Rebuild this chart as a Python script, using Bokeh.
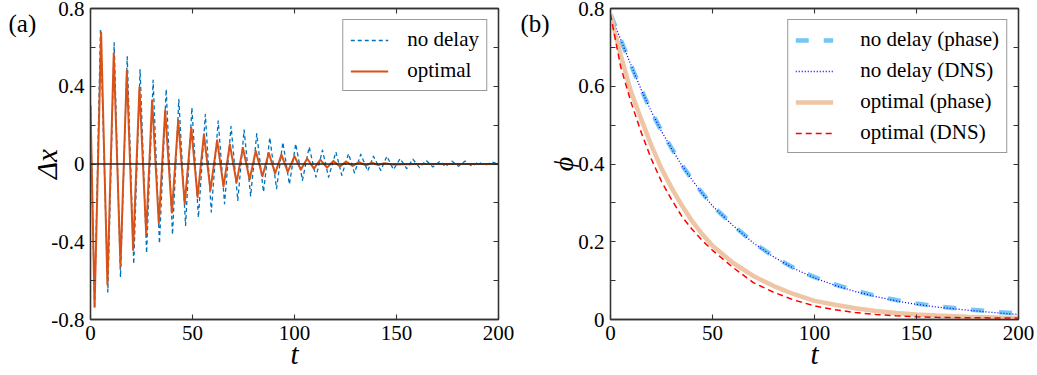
from bokeh.plotting import figure
from bokeh.models import Range1d, FixedTicker, LinearAxis, Span, Label
from bokeh.layouts import row
from bokeh.embed import file_html
from bokeh.resources import INLINE

# ---------------- data: panel (a) ----------------
t_nodelay = [0, 2.0, 4.9, 8.5, 11.6, 14.7, 18.0, 21.2, 24.3, 27.5,
             30.7, 33.8, 37.1, 40.2, 43.3, 46.6, 49.7, 52.9, 56.3, 59.2,
             62.6, 65.7, 68.9, 72.2, 75.3, 78.5, 81.5, 84.8, 87.9, 91.2,
             94.3, 97.5, 100.6, 103.9, 107.2, 110.5, 113.7, 116.7, 120.3, 123.2,
             126.5, 129.4, 132.5, 135.9, 138.7, 142.3, 145.3, 148.5, 151.8, 155.0,
             158.0, 161.3, 164.5, 167.8, 171.4, 173.9, 177.1, 180.4, 183.6, 187.0,
             190.1, 193.5, 196.7, 200]
dx_nodelay = [0.30, -0.74, 0.697, -0.659, 0.624, -0.582, 0.552, -0.515, 0.485, -0.458,
              0.431, -0.410, 0.385, -0.364, 0.332, -0.316, 0.290, -0.275, 0.255, -0.247,
              0.222, -0.204, 0.194, -0.187, 0.175, -0.164, 0.156, -0.144, 0.136, -0.127,
              0.112, -0.105, 0.104, -0.084, 0.088, -0.067, 0.071, -0.068, 0.062, -0.058,
              0.053, -0.046, 0.050, -0.036, 0.040, -0.033, 0.040, -0.029, 0.028, -0.024,
              0.025, -0.019, 0.019, -0.015, 0.015, -0.015, 0.015, -0.012, 0.015, -0.012,
              0.010, -0.007, 0.010, 0.0]

t_optimal = [0, 2.0, 5.2, 8.3, 11.4, 14.7, 17.8, 20.9, 24.0, 27.3,
             30.2, 33.5, 36.6, 39.9, 43.0, 46.2, 49.4, 52.5, 55.6, 58.8,
             62.1, 65.2, 68.3, 71.6, 74.7, 78.0, 81.0, 84.3, 87.4, 90.5,
             93.6, 96.7, 100.0, 103.1, 106.2, 109.5, 112.6, 115.9, 119.1, 122.3,
             125.3, 128.5, 131.7, 135.0, 138.0, 141.0, 144.0, 148.0, 160.0, 200.0]
dx_optimal = [0.302, -0.735, 0.676, -0.62, 0.570, -0.525, 0.478, -0.442, 0.394, -0.36,
              0.328, -0.305, 0.276, -0.25, 0.225, -0.205, 0.186, -0.170, 0.153, -0.135,
              0.122, -0.115, 0.101, -0.096, 0.084, -0.080, 0.067, -0.063, 0.057, -0.049,
              0.048, -0.041, 0.040, -0.029, 0.028, -0.024, 0.022, -0.019, 0.016, -0.013,
              0.013, -0.010, 0.010, -0.007, 0.007, -0.005, 0.004, -0.003, 0.0, 0.0]

# ---------------- data: panel (b) ----------------
t_phi = [0, 5, 10, 15, 20, 25, 30, 35, 40, 45, 50, 60, 70, 80, 90, 100,
         110, 120, 130, 140, 150, 160, 175, 190, 200]
phi_nodelay_phase = [0.785, 0.72, 0.655, 0.592, 0.535, 0.485, 0.44, 0.397, 0.36, 0.325,
                     0.293, 0.243, 0.198, 0.162, 0.132, 0.109, 0.09, 0.074, 0.061, 0.05,
                     0.041, 0.034, 0.026, 0.019, 0.016]
phi_nodelay_dns = [0.785, 0.72, 0.655, 0.592, 0.535, 0.484, 0.439, 0.396, 0.359, 0.324,
                   0.292, 0.242, 0.197, 0.161, 0.131, 0.107, 0.088, 0.072, 0.059, 0.048,
                   0.039, 0.032, 0.024, 0.017, 0.013]
phi_optimal_phase = [0.785, 0.68, 0.587, 0.516, 0.448, 0.388, 0.338, 0.293, 0.253, 0.219,
                     0.19, 0.146, 0.112, 0.086, 0.065, 0.048, 0.038, 0.029, 0.022, 0.017,
                     0.013, 0.010, 0.007, 0.005, 0.004]
phi_optimal_dns = [0.785, 0.65, 0.56, 0.482, 0.413, 0.355, 0.308, 0.265, 0.232, 0.203,
                   0.178, 0.134, 0.095, 0.07, 0.05, 0.035, 0.025, 0.018, 0.013, 0.0095,
                   0.007, 0.0055, 0.0045, 0.004, 0.0035]

# ---------------- ticks ----------------
x_ticks = [0, 50, 100, 150, 200]
x_tick_labels = ["0", "50", "100", "150", "200"]
a_y_ticks = [-0.8, -0.4, 0, 0.4, 0.8]
a_y_tick_labels = ["-0.8", "-0.4", "0", "0.4", "0.8"]
a_y_minor = [-0.6, -0.2, 0.2, 0.6]
b_y_ticks = [0, 0.2, 0.4, 0.6, 0.8]
b_y_tick_labels = ["0", "0.2", "0.4", "0.6", "0.8"]
b_y_minor = [0.1, 0.3, 0.5, 0.7]

SERIF = "Liberation Serif"
FRAME = "#333333"


def style_axis(ax, ticks, minor, labels=None, label_size="29px"):
    ax.ticker = FixedTicker(ticks=ticks, minor_ticks=minor)
    ax.major_tick_in = 5
    ax.major_tick_out = 0
    ax.minor_tick_in = 5
    ax.minor_tick_out = 0
    ax.axis_line_color = FRAME
    ax.axis_line_width = 1.3
    ax.major_tick_line_color = FRAME
    ax.minor_tick_line_color = FRAME
    ax.major_tick_line_width = 1.1
    ax.minor_tick_line_width = 1.1
    if labels is not None:
        ax.major_label_overrides = dict(zip(ticks, labels))
        ax.major_label_text_font = SERIF
        ax.major_label_text_font_size = "21px"
        ax.major_label_text_color = "black"
        ax.major_label_standoff = 6
        ax.axis_label_text_font = SERIF
        ax.axis_label_text_font_style = "italic"
        ax.axis_label_text_font_size = label_size
        ax.axis_label_text_color = "black"
    else:
        ax.major_label_overrides = {tk: "" for tk in ticks}
        ax.major_label_text_font_size = "0px"
        ax.major_label_standoff = 0


def make_fig(width, left, right, y0, y1, yt, ytl, ym, ylabel, ylabel_standoff, ylabel_size):
    p = figure(width=width, height=375, output_backend="svg", toolbar_location=None,
               x_range=Range1d(0, 200), y_range=Range1d(y0, y1),
               min_border_left=left, min_border_right=right,
               min_border_top=8, min_border_bottom=56,
               x_axis_label="t", y_axis_label=ylabel)
    p.grid.visible = False
    p.outline_line_color = FRAME
    p.outline_line_width = 1.3
    p.background_fill_color = "white"
    p.border_fill_color = "white"
    style_axis(p.xaxis[0], x_ticks, [], x_tick_labels)
    p.xaxis[0].axis_label_standoff = -5
    style_axis(p.yaxis[0], yt, ym, ytl, ylabel_size)
    p.yaxis[0].axis_label_standoff = ylabel_standoff
    top = LinearAxis()
    style_axis(top, x_ticks, [])
    p.add_layout(top, "above")
    rt = LinearAxis()
    style_axis(rt, yt, ym)
    p.add_layout(rt, "right")
    return p


def style_legend(p, standoff):
    lg = p.legend[0]
    lg.location = "top_right"
    lg.margin = 11
    lg.label_text_font = SERIF
    lg.label_text_font_size = "21px"
    lg.label_text_color = "black"
    lg.glyph_width = 38
    lg.glyph_height = 22
    lg.label_height = 22
    lg.label_standoff = standoff
    lg.padding = 7
    lg.spacing = 6
    lg.border_line_color = FRAME
    lg.border_line_width = 1.1
    lg.background_fill_color = "white"
    lg.background_fill_alpha = 1.0


def panel_letter(p, text, x, y):
    p.add_layout(Label(x=x, y=y, text=text, text_font=SERIF, text_font_size="25px",
                       text_baseline="top", text_align="left", text_color="black"), "left")


# ---------------- panel (a) ----------------
pa = make_fig(515, 90, 17, -0.8, 0.8, a_y_ticks, a_y_tick_labels, a_y_minor, "Δx", -15, "29px")
pa.line(t_nodelay, dx_nodelay, line_color="#0072BD", line_width=1.3,
        line_dash="4 3", line_join="round", legend_label="no delay")
pa.line(t_optimal, dx_optimal, line_color="#D95319", line_width=2.0,
        line_join="round", legend_label="optimal")
pa.add_layout(Span(location=0, dimension="width", line_color="#222222", line_width=1.4))
style_legend(pa, 19)
panel_letter(pa, "(a)", -40.2, 0.79)

# ---------------- panel (b) ----------------
pb = make_fig(522, 95, 19, 0, 0.8, b_y_ticks, b_y_tick_labels, b_y_minor, "ϕ", -4, "28px")
pb.line(t_phi, phi_nodelay_phase, line_color="#74C6F4", line_width=4.5,
        line_dash="13 15", legend_label="no delay (phase)")
pb.line(t_phi, phi_nodelay_dns, line_color="#0000FF", line_width=1.3,
        line_dash="1 2", legend_label="no delay (DNS)")
pb.line(t_phi, phi_optimal_phase, line_color="#EEC6A6", line_width=4.5,
        legend_label="optimal (phase)")
pb.line(t_phi, phi_optimal_dns, line_color="#FF0000", line_width=1.5,
        line_dash="6 4", legend_label="optimal (DNS)")
style_legend(pb, 27)
panel_letter(pb, "(b)", -44.1, 0.795)

layout = row(pa, pb)
open("out.html", "w").write(file_html(layout, INLINE))
